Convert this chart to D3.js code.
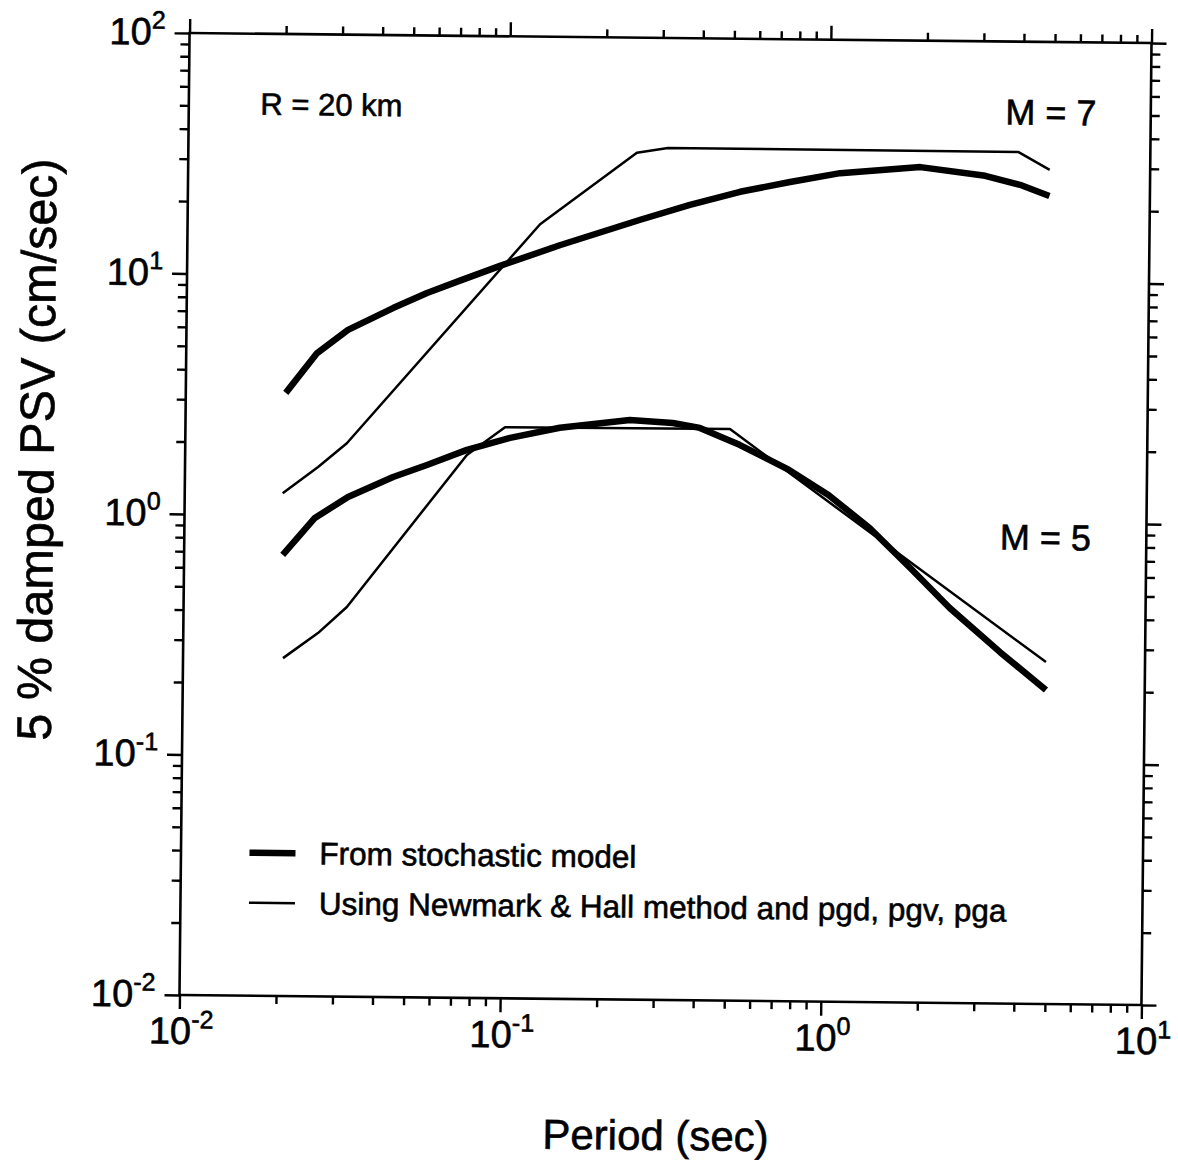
<!DOCTYPE html>
<html>
<head>
<meta charset="utf-8">
<script src="https://cdn.jsdelivr.net/npm/d3@7"></script>
<style>
  body { margin: 0; background: #fff; }
  text { font-family: "Liberation Sans", Arial, sans-serif; fill: #000; stroke: #000; stroke-width: 0.6px; }
</style>
</head>
<body>
<script>
// DATA ––––––––––––––––––––––––––––––––––––––––––––––––––––––––––––––

// period (sec), PSV (cm/sec)
var stochasticM7 = [[0.0205, 3.22], [0.0256, 4.73], [0.0319, 5.92], [0.044, 7.33], [0.0561, 8.5],
  [0.071, 9.6], [0.0946, 11.1], [0.145, 13.6], [0.258, 17.5], [0.368, 20.3], [0.527, 23.1],
  [0.754, 25.5], [1.08, 27.9], [1.92, 29.8], [3.06, 27.6], [3.93, 25.4], [4.86, 22.9]];

var newmarkM7 = [[0.0202, 1.23], [0.026, 1.59], [0.0319, 2.0], [0.1257, 16.6], [0.2505, 33.2],
  [0.313, 34.9], [3.87, 34.8], [4.86, 29.4]];

var stochasticM5 = [[0.0203, 0.682], [0.0255, 0.975], [0.0323, 1.196], [0.0446, 1.454], [0.0568, 1.637],
  [0.0756, 1.9], [0.103, 2.14], [0.147, 2.37], [0.243, 2.57], [0.331, 2.51], [0.402, 2.4],
  [0.535, 2.05], [0.765, 1.62], [1.017, 1.28], [1.37, 0.936], [1.84, 0.641], [2.45, 0.439],
  [3.53, 0.289], [4.92, 0.202]];

var newmarkM5 = [[0.0205, 0.254], [0.0263, 0.324], [0.0323, 0.417], [0.0756, 1.81], [0.0992, 2.37],
  [0.499, 2.38], [4.91, 0.264]];

var xMajor = [0.01, 0.1, 1, 10];
var xExp = ["-2", "-1", "0", "1"];
var yMajor = [0.01, 0.1, 1, 10, 100];
var yExp = ["-2", "-1", "0", "1", "2"];

var legendLabels = ["From stochastic model", "Using Newmark & Hall method and pgd, pgv, pga"];

// HELPERS –––––––––––––––––––––––––––––––––––––––––––––––––––––––––––

var minorTicks = function(lo, hi) {
  let out = [];
  for (let k = lo; k < hi; k++) {
    for (let d = 2; d <= 9; d++) out.push(d * Math.pow(10, k));
  }
  return out;
};

// DRAW ––––––––––––––––––––––––––––––––––––––––––––––––––––––––––––––

var W = 1178, H = 1164;
var plot = {left: 184.5, right: 1146.5, top: 38, bottom: 1000};

var svg = d3.select("body").append("svg")
  .attr("width", W)
  .attr("height", H);

// the scanned figure sits slightly turned
var root = svg.append("g")
  .attr("transform", "rotate(0.6," + ((plot.left + plot.right) / 2) + "," + ((plot.top + plot.bottom) / 2) + ")");

var x = d3.scaleLog().domain([0.01, 10]).range([plot.left, plot.right]);
var y = d3.scaleLog().domain([0.01, 100]).range([plot.bottom, plot.top]);

var xMinor = minorTicks(-2, 1);
var yMinor = minorTicks(-2, 2);

var styleAxis = function(g) {
  g.select(".domain").remove();
  g.selectAll(".tick line").attr("stroke", "#000").attr("stroke-width", 2.4);
  g.selectAll(".tick text").remove();
};

root.append("g").attr("transform", "translate(0," + plot.bottom + ")")
  .call(d3.axisBottom(x).tickValues(xMajor).tickSize(14)).call(styleAxis);
root.append("g").attr("transform", "translate(0," + plot.bottom + ")")
  .call(d3.axisBottom(x).tickValues(xMinor).tickSize(8)).call(styleAxis);
root.append("g").attr("transform", "translate(0," + plot.top + ")")
  .call(d3.axisTop(x).tickValues(xMajor).tickSize(14)).call(styleAxis);
root.append("g").attr("transform", "translate(0," + plot.top + ")")
  .call(d3.axisTop(x).tickValues(xMinor).tickSize(8)).call(styleAxis);
root.append("g").attr("transform", "translate(" + plot.left + ",0)")
  .call(d3.axisLeft(y).tickValues(yMajor).tickSize(15)).call(styleAxis);
root.append("g").attr("transform", "translate(" + plot.left + ",0)")
  .call(d3.axisLeft(y).tickValues(yMinor).tickSize(9)).call(styleAxis);
root.append("g").attr("transform", "translate(" + plot.right + ",0)")
  .call(d3.axisRight(y).tickValues(yMajor).tickSize(15)).call(styleAxis);
root.append("g").attr("transform", "translate(" + plot.right + ",0)")
  .call(d3.axisRight(y).tickValues(yMinor).tickSize(9)).call(styleAxis);

// frame
root.append("rect")
  .attr("x", plot.left).attr("y", plot.top)
  .attr("width", plot.right - plot.left).attr("height", plot.bottom - plot.top)
  .attr("fill", "none").attr("stroke", "#000").attr("stroke-width", 2.6);

// tick labels 10^n
var powerLabel = function(sel, exp) {
  sel.append("tspan").text("10");
  sel.append("tspan").attr("font-size", 25).attr("dy", -16).text(exp);
};

xMajor.forEach(function(v, i) {
  root.append("text")
    .attr("x", x(v) + 2).attr("y", plot.bottom + 49)
    .attr("font-size", 38).attr("text-anchor", "middle")
    .call(powerLabel, xExp[i]);
});

yMajor.forEach(function(v, i) {
  root.append("text")
    .attr("x", plot.left - 24).attr("y", y(v) + 12)
    .attr("font-size", 38).attr("text-anchor", "end")
    .call(powerLabel, yExp[i]);
});

// axis titles
root.append("text")
  .attr("transform", "translate(53,456) rotate(-90)")
  .attr("text-anchor", "middle").attr("font-size", 48.5)
  .text("5 % damped PSV (cm/sec)");

root.append("text")
  .attr("x", 662).attr("y", 1150)
  .attr("text-anchor", "middle").attr("font-size", 42)
  .text("Period (sec)");

// curves
var line = d3.line()
  .x(function(d) { return x(d[0]); })
  .y(function(d) { return y(d[1]); });

[stochasticM7, stochasticM5].forEach(function(s) {
  root.append("path").datum(s)
    .attr("fill", "none").attr("stroke", "#000")
    .attr("stroke-width", 6.5).attr("stroke-linejoin", "round")
    .attr("d", line);
});

[newmarkM7, newmarkM5].forEach(function(s) {
  root.append("path").datum(s)
    .attr("fill", "none").attr("stroke", "#000")
    .attr("stroke-width", 2.5).attr("stroke-linejoin", "round")
    .attr("d", line);
});

// annotations
root.append("text").attr("x", 256).attr("y", 119).attr("font-size", 31).text("R = 20 km");
root.append("text").attr("x", 1001).attr("y", 121).attr("font-size", 36).text("M = 7");
root.append("text").attr("x", 1000).attr("y", 546).attr("font-size", 36).text("M = 5");

// legend
var legendWidths = [6.5, 2.5];
legendLabels.forEach(function(lab, i) {
  let ly = 857 + i * 50;
  root.append("line")
    .attr("x1", 253).attr("x2", 299).attr("y1", ly).attr("y2", ly)
    .attr("stroke", "#000").attr("stroke-width", legendWidths[i]);
  root.append("text")
    .attr("x", 323).attr("y", ly + 11)
    .attr("font-size", 31.5).text(lab);
});
</script>
</body>
</html>
